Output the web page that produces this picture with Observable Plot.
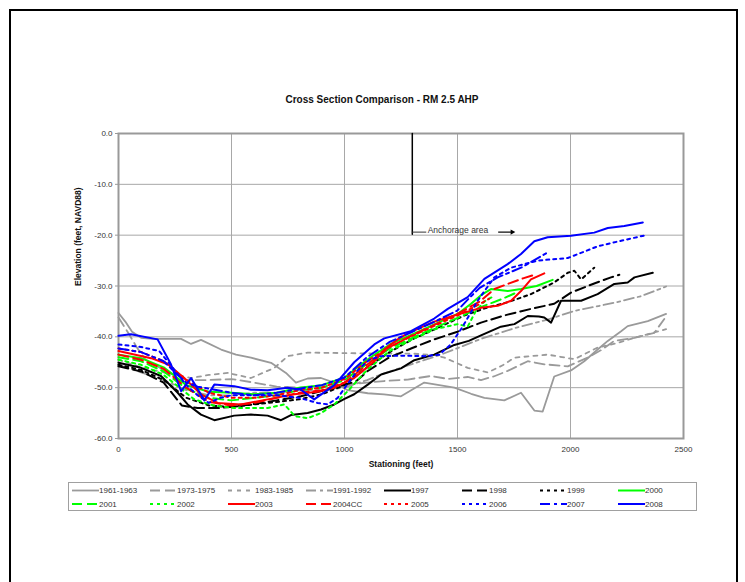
<!DOCTYPE html>
<html><head><meta charset="utf-8">
<script src="https://cdn.jsdelivr.net/npm/d3@7"></script>
<script src="https://cdn.jsdelivr.net/npm/@observablehq/plot@0.6"></script>
<style>
body{margin:0;background:#fff;font-family:"Liberation Sans",Arial,sans-serif;}
#page{position:relative;width:745px;height:582px;overflow:hidden;background:#fff;}
#border{position:absolute;left:9px;top:9px;width:725px;height:640px;border:2px solid #000;}
#title{position:absolute;left:182px;width:400px;top:94px;text-align:center;font-weight:bold;font-size:10px;color:#111;}
#chart{position:absolute;left:0;top:120px;}
#legend{position:absolute;left:68px;top:482px;}
</style></head><body>
<div id="page"><div id="border"></div><div id="title">Cross Section Comparison - RM 2.5 AHP</div><div id="chart"></div><div id="legend"></div></div>
<script>
// ---- data: [stationing (ft), elevation (ft NAVD88)] ----
const s1961 = [[0,-35.3],[30,-37],[60,-39],[100,-40.2],[150,-40.4],[200,-40.4],[277,-40.4],[321,-41.4],[365,-40.6],[454,-42.5],[520,-43.5],[586,-44.1],[675,-45.1],[741,-47.1],[785,-49.0],[837,-48.2],[896,-48.1],[954,-49.0],[1014,-50.5],[1103,-51.1],[1175,-51.3],[1250,-51.7],[1353,-49.0],[1486,-50.0],[1560,-51.2],[1619,-52.0],[1707,-52.5],[1781,-51.0],[1840,-54.5],[1877,-54.7],[1928,-47.8],[2002,-46.6],[2061,-44.8],[2120,-42.5],[2165,-40.8],[2224,-38.9],[2253,-37.9],[2342,-36.9],[2423,-35.5]];
const s1973 = [[0,-36.2],[40,-39],[80,-42],[120,-44.5],[200,-46.5],[300,-48.5],[400,-48.5],[500,-48.3],[600,-49],[700,-49.8],[800,-50],[900,-49.8],[1000,-49.5],[1100,-49],[1175,-48.7],[1280,-48.4],[1383,-47.7],[1460,-48.3],[1545,-47.9],[1604,-48.5],[1660,-47.8],[1722,-46.7],[1811,-44.8],[1884,-45.4],[1988,-45.8],[2076,-44.1],[2140,-42.5],[2194,-40.8],[2283,-40.2],[2371,-39.2],[2415,-36.5]];
const s1983 = [[0,-44.5],[100,-46],[200,-47],[321,-48.1],[400,-47.5],[483,-47.1],[586,-48.1],[690,-46.1],[749,-43.8],[837,-43.1],[1000,-43.2],[1150,-43.3],[1300,-43.3],[1400,-43.6],[1443,-44.1],[1545,-46.1],[1634,-47.0],[1700,-45.6],[1752,-44.1],[1899,-43.5],[2017,-44.4],[2120,-42.1],[2200,-41.3],[2283,-40.2],[2423,-38.5]];
const s1991 = [[0,-45.5],[100,-47],[200,-48.5],[300,-50.5],[400,-51.5],[500,-51.5],[600,-51],[700,-51],[800,-50.5],[900,-50.5],[1000,-50],[1100,-48.5],[1162,-47.4],[1309,-45.2],[1427,-43.5],[1604,-40.4],[1752,-38.3],[1899,-36.6],[2017,-34.9],[2194,-33.3],[2312,-32.0],[2423,-30.1]];
const s1997 = [[0,-45.1],[100,-46.1],[188,-47.7],[262,-51.0],[306,-53.3],[365,-55.3],[424,-56.4],[512,-55.5],[586,-55.3],[660,-55.5],[719,-56.4],[763,-55.4],[837,-55.0],[896,-54.3],[955,-53.3],[1000,-52.2],[1043,-51.3],[1103,-49.4],[1162,-47.4],[1250,-46.2],[1309,-44.6],[1397,-43.5],[1486,-41.6],[1550,-40.8],[1604,-39.7],[1692,-38.0],[1752,-37.5],[1811,-35.9],[1860,-36.0],[1884,-36.2],[1914,-37.2],[1958,-32.9],[2047,-32.9],[2120,-31.6],[2194,-29.6],[2253,-29.3],[2283,-28.3],[2364,-27.4]];
const s1998 = [[0,-45.8],[100,-46.8],[200,-49],[280,-53.5],[350,-54],[450,-54],[586,-53.3],[700,-52.5],[807,-51.7],[955,-50.0],[1050,-48.8],[1103,-46.7],[1200,-44],[1300,-42.2],[1397,-40.5],[1500,-39],[1604,-37.2],[1707,-35.8],[1825,-34.5],[1928,-33.5],[2002,-31.3],[2105,-29.5],[2179,-28.3],[2216,-27.8]];
const s1999 = [[0,-45.5],[100,-46.5],[200,-48.5],[300,-52],[400,-53.5],[500,-53.8],[600,-53.3],[700,-52.8],[800,-52.3],[900,-51.3],[1000,-49.5],[1100,-46],[1200,-43],[1300,-40.5],[1400,-38.5],[1530,-35.8],[1634,-34.2],[1722,-33.2],[1825,-31.6],[1928,-29.3],[1988,-27.4],[2017,-27.0],[2047,-28.7],[2105,-26.4]];
const s2000 = [[0,-43.5],[100,-44.2],[200,-46],[300,-49.5],[400,-50.8],[500,-51],[600,-51.3],[700,-51],[800,-50],[900,-49.5],[1000,-48],[1100,-44.5],[1200,-41.5],[1300,-39.5],[1400,-37.5],[1500,-35.5],[1560,-33.5],[1604,-31.8],[1648,-30.6],[1722,-31],[1781,-30.6],[1850,-30],[1921,-28.8]];
const s2001 = [[0,-44],[100,-44.8],[200,-46.8],[300,-50.2],[400,-52],[500,-52.5],[600,-52],[700,-51.5],[800,-50.5],[900,-50],[1000,-48.5],[1100,-45.3],[1200,-42.3],[1300,-40.2],[1400,-38.2],[1500,-36.3],[1600,-34.2],[1700,-32.5],[1760,-31.3]];
const s2002 = [[0,-44.5],[100,-45.5],[200,-47.5],[335,-52.3],[420,-53.5],[512,-54],[600,-54],[660,-54],[734,-53.3],[780,-55.6],[837,-56],[896,-55],[955,-53.3],[1014,-50.7],[1100,-46.5],[1200,-42.8],[1300,-40.5],[1400,-38.5],[1500,-37.5],[1545,-38],[1580,-35],[1620,-33],[1660,-32]];
const s2003 = [[0,-42.8],[144,-44.2],[218,-45.4],[291,-48.1],[365,-51.3],[439,-53.0],[542,-53.3],[660,-52.3],[778,-51.3],[881,-50.8],[955,-50.0],[1043,-48.1],[1132,-44.8],[1176,-42.5],[1235,-40.5],[1280,-39.3],[1397,-37],[1501,-35.6],[1604,-34.3],[1678,-33.9],[1737,-32.9],[1781,-31.0],[1825,-28.7],[1884,-27.5]];
const s2004 = [[0,-43.5],[100,-44.5],[200,-46.3],[300,-50],[400,-52.8],[500,-53.5],[600,-53],[700,-52],[800,-51],[900,-50.5],[1000,-49],[1100,-45.5],[1200,-42],[1300,-39.7],[1400,-37.6],[1500,-35.5],[1600,-33],[1663,-30.6],[1722,-29.6],[1790,-28.5],[1840,-27.8]];
const s2005 = [[0,-42.3],[100,-43],[200,-44.8],[300,-48.5],[400,-51],[500,-52],[600,-52],[700,-51.5],[800,-50.5],[900,-50],[1000,-48.3],[1100,-44.8],[1200,-42],[1300,-39.8],[1400,-37.8],[1500,-35.8],[1580,-34],[1640,-32.5]];
const s2006 = [[0,-41.5],[100,-42],[180,-42.8],[230,-45.5],[300,-49.5],[350,-51.5],[400,-53],[450,-52],[500,-51.5],[600,-51.5],[700,-51.5],[800,-52],[880,-53],[926,-53.3],[970,-52],[1010,-49.5],[1060,-46.5],[1110,-44.5],[1162,-43.8],[1250,-43.7],[1353,-43.8],[1420,-43.5],[1470,-41.5],[1520,-38.2],[1589,-32.9],[1663,-28.3],[1737,-26.4],[1855,-25],[1988,-24.5],[2120,-22.2],[2224,-21.1],[2334,-20]];
const s2007 = [[0,-42.3],[100,-43],[200,-44.8],[250,-47],[300,-49],[350,-49.8],[400,-50.2],[500,-51],[600,-51.5],[700,-51],[800,-50.2],[900,-49.5],[1000,-48],[1100,-44],[1200,-41],[1300,-39],[1400,-37],[1500,-34.8],[1560,-32],[1600,-30.3],[1678,-28.3],[1781,-26.4],[1899,-23.4]];
const s2008 = [[0,-39.8],[55,-39.5],[173,-40.5],[232,-45.4],[277,-50.7],[321,-48.1],[380,-52.5],[424,-49.4],[512,-49.7],[586,-50.4],[660,-50.5],[748,-50.0],[807,-50.4],[866,-52.3],[955,-49.5],[1043,-45.0],[1132,-41.5],[1176,-40.3],[1294,-38.9],[1397,-36.4],[1457,-34.5],[1545,-32.2],[1619,-28.6],[1722,-25.7],[1781,-23.7],[1840,-21.2],[1899,-20.4],[2002,-20.1],[2105,-19.5],[2165,-18.6],[2238,-18.2],[2320,-17.5]];

const seriesNames = ["1961-1963","1973-1975","1983-1985","1991-1992","1997","1998","1999","2000","2001","2002","2003","2004CC","2005","2006","2007","2008"];
const seriesValues = [s1961,s1973,s1983,s1991,s1997,s1998,s1999,s2000,s2001,s2002,s2003,s2004,s2005,s2006,s2007,s2008];

const xTicks = [0,500,1000,1500,2000,2500];
const yTicks = [0,-10,-20,-30,-40,-50,-60];

// annotation values
const anchorLine = [[1300,0],[1300,-19.8]];
const anchorTick = [[1300,-19.4],[1360,-19.4]];
const anchorLabel = [[1368,-19.1,"Anchorage area"]];
const anchorArrow = [[1680,1738,-19.4]];
const anchorHead = [[1742,-19.4]];

// ---- styles ----
const gray = "#9a9a9a";
const seriesColors = [gray,gray,gray,gray,"#000","#000","#000","#00ff00","#00ff00","#00ff00","#ff0000","#ff0000","#ff0000","#0000ff","#0000ff","#0000ff"];
const LONG = "10,5", SHORT = "4,5", DOT = "3,4", DASHDOT = "10,4,3,4";
const seriesDash = [null,LONG,SHORT,DASHDOT,null,LONG,DOT,null,LONG,DOT,null,LONG,DOT,DOT,DASHDOT,null];
const seriesWidth = [1.8,1.8,1.8,1.8,2,2,2,2,2,2,2,2,2,2,2,2];

const lineMarks = seriesValues.map((vals, i) => Plot.line(vals, {
  x: d => d[0], y: d => d[1], stroke: seriesColors[i], strokeWidth: seriesWidth[i],
  strokeDasharray: seriesDash[i] || undefined, strokeLinejoin: "round"
}));

const chart = Plot.plot({
  width: 745, height: 355,
  marginLeft: 118, marginRight: 62, marginTop: 13, marginBottom: 37,
  x: {domain: [0, 2500]},
  y: {domain: [-60, 0]},
  style: {fontFamily: "'Liberation Sans', Arial, sans-serif", fontSize: "8px", color: "#333", background: "transparent"},
  marks: [
    Plot.gridX(xTicks, {stroke: "#a8a8a8", strokeOpacity: 1, strokeWidth: 1}),
    Plot.gridY(yTicks, {stroke: "#a8a8a8", strokeOpacity: 1, strokeWidth: 1}),
    Plot.frame({stroke: "#999", strokeWidth: 2}),
    Plot.axisX(xTicks, {tickSize: 0, tickPadding: 8, tickFormat: d => String(d), label: null, fill: "#333"}),
    Plot.axisY(yTicks, {tickSize: 3, tickPadding: 3, tickFormat: d => d.toFixed(1), label: null, fill: "#333", stroke: "#999"}),
    Plot.text(["Elevation (feet, NAVD88)"], {frameAnchor: "left", dx: -40, rotate: -90, fontWeight: "bold", fontSize: 8.5, fill: "#111"}),
    Plot.text(["Stationing (feet)"], {frameAnchor: "bottom", dy: 28, fontWeight: "bold", fontSize: 8.5, fill: "#111"}),
    Plot.line(anchorLine, {x: d => d[0], y: d => d[1], stroke: "#000", strokeWidth: 1.5}),
    Plot.line(anchorTick, {x: d => d[0], y: d => d[1], stroke: "#333", strokeWidth: 1}),
    Plot.text(anchorLabel, {x: d => d[0], y: d => d[1], text: d => d[2], textAnchor: "start", fontSize: 8.5, fill: "#333"}),
    Plot.link(anchorArrow, {x1: d => d[0], x2: d => d[1], y1: d => d[2], y2: d => d[2], stroke: "#000", strokeWidth: 1.2}),
    Plot.dot(anchorHead, {x: d => d[0], y: d => d[1], symbol: "triangle2", rotate: 90, r: 2.6, fill: "#000", stroke: "none"}),
    ...lineMarks
  ]
});
document.getElementById("chart").appendChild(chart);

// ---- legend ----
const lw = 629, lh = 29, colW = 78;
const lsvg = d3.select("#legend").append("svg").attr("width", lw).attr("height", lh)
  .style("font-family", "'Liberation Sans', Arial, sans-serif").style("font-size", "8px");
lsvg.append("rect").attr("x", 0.5).attr("y", 0.5).attr("width", lw - 1).attr("height", lh - 1)
  .attr("fill", "#fff").attr("stroke", "#a0a0a0").attr("stroke-width", 1);
seriesNames.forEach((name, i) => {
  const col = i % 8, row = Math.floor(i / 8);
  const x0 = 4 + col * colW, y = 8.5 + row * 13.5;
  const g = lsvg.append("g");
  g.append("line").attr("x1", x0).attr("x2", x0 + 27).attr("y1", y).attr("y2", y)
    .attr("stroke", seriesColors[i]).attr("stroke-width", seriesWidth[i])
    .attr("stroke-dasharray", seriesDash[i]);
  g.append("text").attr("x", x0 + 27).attr("y", y).attr("dy", "0.35em").attr("fill", "#333").text(name);
});
</script>
</body></html>
